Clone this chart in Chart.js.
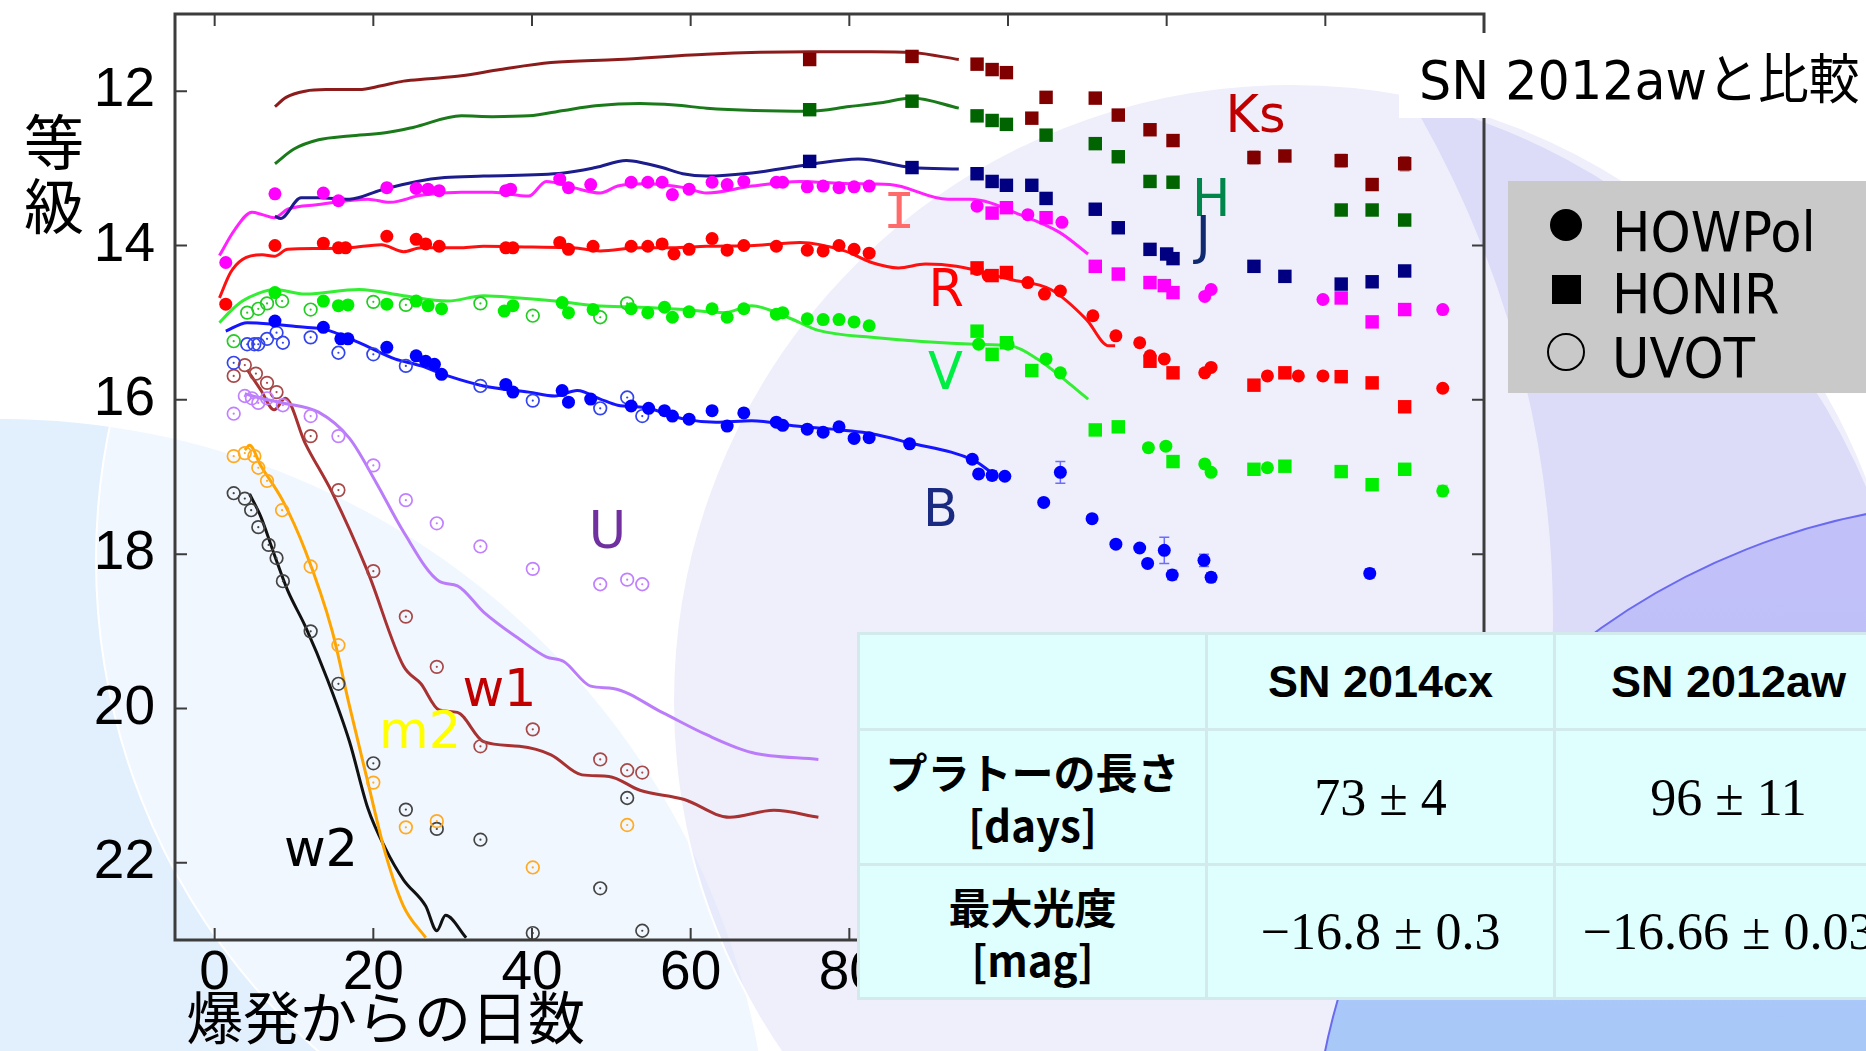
<!DOCTYPE html>
<html>
<head>
<meta charset="utf-8">
<script src="https://cdn.jsdelivr.net/npm/chart.js@4.4.0/dist/chart.umd.min.js"></script>
<style>
  html, body { margin:0; padding:0; width:1866px; height:1051px; overflow:hidden; background:#fff; }
  .deco { position:absolute; border-radius:50%; box-sizing:border-box; }
  #c { position:absolute; left:0; top:0; }
  .ytitle { position:absolute; left:22px; top:107px; width:64px; font:60px "Noto Sans CJK JP"; line-height:64px; text-align:center; color:#000; }
  .xtitle { position:absolute; left:186px; top:986px; font:57px "Noto Sans CJK JP"; line-height:1; color:#000; white-space:nowrap; }
  .titlebox { position:absolute; left:1399px; top:33px; width:480px; height:85px; background:#fff; }
  .titlebox span { position:absolute; left:20px; top:0; font:54px "DejaVu Sans","Noto Sans CJK JP"; line-height:95px; white-space:nowrap; transform:scaleX(0.94); transform-origin:left center; }
  .legend { position:absolute; left:1508px; top:181px; width:380px; height:212px; background:#c9c9c9; }
  .legend .sym { position:absolute; box-sizing:border-box; }
  .legend .txt { position:absolute; left:104px; font:55px "DejaVu Sans"; line-height:1; white-space:nowrap; transform:scaleX(0.93); transform-origin:left center; }
  table.info { position:absolute; left:857px; top:632px; width:1044px; border-collapse:collapse; background:#dfffff; table-layout:fixed; }
  table.info td { border:3px solid #d3eaec; text-align:center; vertical-align:middle; padding:0; }
  .hd { font:bold 45px "Liberation Sans"; }
  .rl { font:bold 42px "Noto Sans CJK JP"; line-height:53px; }
  .val { font:52px "Liberation Serif"; white-space:nowrap; }
</style>
</head>
<body>
<!-- decorative background shapes -->
<div class="deco" style="left:580px;top:80px;width:1340px;height:1340px;background:#e2e2fa;"></div>
<div class="deco" style="left:-487px;top:-400px;width:2040px;height:2040px;background:#fff;border:3px solid #fff;"></div>
<div class="deco" style="left:-771px;top:419px;width:1542px;height:1542px;background:#e2effc;"></div>
<div class="deco" style="left:95px;top:-95px;width:1310px;height:1310px;background:rgba(255,255,255,0.5);border:2px solid #fff;"></div>
<div class="deco" style="left:672px;top:83px;width:1238px;height:1238px;background:rgba(212,212,248,0.36);border:2px solid #fff;"></div>
<div class="deco" style="left:1310px;top:500px;width:1380px;height:1380px;background:linear-gradient(to bottom,#c2c0f8 4%,#bfc0f8 12%,#a8c8f8 38%);border:2px solid #6a6af0;"></div>

<canvas id="c" width="1866" height="1051"></canvas>

<div class="ytitle">等<br>級</div>
<div class="xtitle">爆発からの日数</div>
<div class="titlebox"><span>SN 2012awと比較</span></div>
<div class="legend">
  <div class="sym" style="left:42px;top:28px;width:32px;height:32px;border-radius:50%;background:#000;"></div>
  <div class="txt" style="top:24px;">HOWPol</div>
  <div class="sym" style="left:44px;top:94px;width:29px;height:29px;background:#000;"></div>
  <div class="txt" style="top:86px;">HONIR</div>
  <div class="sym" style="left:39px;top:152px;width:38px;height:38px;border-radius:50%;border:2.5px solid #000;"></div>
  <div class="txt" style="top:150px;">UVOT</div>
</div>
<table class="info">
  <colgroup><col style="width:348px"><col style="width:348px"><col style="width:348px"></colgroup>
  <tr style="height:96px"><td></td><td class="hd">SN 2014cx</td><td class="hd">SN 2012aw</td></tr>
  <tr style="height:135px"><td class="rl">プラトーの長さ<br>[days]</td><td class="val">73 ± 4</td><td class="val">96 ± 11</td></tr>
  <tr style="height:134px"><td class="rl">最大光度<br>[mag]</td><td class="val">−16.8 ± 0.3</td><td class="val">−16.66 ± 0.03</td></tr>
</table>

<script>
// ---- axes ----
const xTicks = [0, 20, 40, 60, 80, 100, 120, 140, 160];
const yTicks = [12, 14, 16, 18, 20, 22];

// ---- SN 2012aw template curves [day, mag] ----
const ksModel = [[7.6,12.2],[9,12.08],[11.4,12.0],[14,11.98],[18.2,11.98],[21,11.93],[23.8,11.87],[27,11.84],[31.1,11.8],[36,11.72],[42.4,11.63],[50.8,11.59],[62,11.52],[75,11.49],[82.8,11.49],[87.9,11.5],[93.8,11.59]];
const hModel  = [[7.6,12.94],[10,12.75],[13.1,12.63],[17,12.58],[21.5,12.54],[25,12.47],[31.1,12.32],[35,12.33],[39.6,12.32],[44,12.25],[48,12.19],[53.6,12.16],[58,12.18],[62,12.22],[68,12.25],[75,12.26],[80,12.2],[84,12.15],[87.9,12.09],[93.8,12.22]];
const jModel  = [[7.6,13.62],[8.3,13.65],[10.9,13.38],[13,13.38],[17,13.4],[21,13.28],[25.5,13.17],[29,13.12],[33.9,13.1],[44,13.06],[48,12.99],[51.9,12.9],[54,12.93],[56.4,12.99],[59,13.07],[62,13.1],[67.7,13.06],[75,12.95],[81.1,12.88],[87.9,12.99],[93.8,13.01]];
const iModel  = [[0.6,14.13],[2.5,13.8],[4.7,13.57],[6,13.6],[7.5,13.64],[9.2,13.53],[13.1,13.47],[19.3,13.4],[22.1,13.44],[26,13.35],[31.1,13.31],[35,13.31],[39.6,13.36],[41.8,13.17],[45.2,13.25],[48.6,13.32],[50.8,13.23],[54.2,13.2],[59.2,13.25],[62,13.32],[67.7,13.23],[73.8,13.17],[80,13.2],[85.1,13.21],[92.4,13.4],[95.2,13.4],[102,13.62],[106.5,13.83],[110.1,14.11]];
const rModel  = [[0.6,14.68],[2,14.35],[3.5,14.18],[6,14.12],[7.5,14.14],[9.2,14.05],[13,14.04],[17,14.03],[21,13.99],[23.8,14.08],[26,14.03],[31.1,14.03],[33.9,14.01],[40,14.02],[45.2,14.03],[48.6,14.07],[53.6,14.03],[57.6,14.03],[62,14.01],[68,14.0],[73.8,13.96],[79.4,14.07],[82.8,14.22],[86.2,14.29],[89.6,14.24],[93.5,14.27],[100.3,14.44],[105.4,14.57],[109.9,14.96],[112.7,15.3],[113.5,15.3]];
const vModel  = [[0.6,15.0],[2,14.85],[3.5,14.72],[5.5,14.62],[7.5,14.57],[11.4,14.63],[18.2,14.57],[23.8,14.65],[29.4,14.72],[33.9,14.65],[38.4,14.68],[42.9,14.72],[48,14.78],[53.6,14.8],[59.2,14.83],[64.3,14.87],[67.7,14.78],[72.2,14.93],[76.1,15.1],[82.8,15.19],[95.8,15.28],[100.3,15.3],[103.7,15.47],[110.1,15.99]];
const bModel  = [[1.4,15.11],[4.1,15.0],[7.5,15.02],[11.4,15.06],[13.7,15.08],[18.2,15.26],[22.7,15.47],[26,15.56],[29.4,15.69],[33.9,15.82],[39.6,15.9],[42.9,15.95],[45.7,15.88],[48.6,15.99],[50.8,16.07],[54.2,16.1],[59.2,16.25],[63.2,16.29],[67.7,16.27],[73.3,16.34],[82.8,16.44],[87.3,16.55],[95.8,16.79],[98,16.95]];
const uModel  = [[3.8,15.92],[5.8,15.98],[8.6,16.04],[13.1,16.16],[17,16.5],[20.4,17.08],[23.8,17.71],[28.3,18.35],[30.6,18.41],[33.9,18.75],[38.4,19.1],[41.8,19.33],[44,19.39],[47.4,19.71],[50.2,19.74],[56.4,20.05],[62,20.34],[67.7,20.57],[76.1,20.66]];
const w1Model = [[4.1,15.61],[5.8,15.87],[7.5,16.13],[8.9,15.98],[11.4,16.56],[14.8,17.2],[19.3,18.23],[23.8,19.45],[26,19.68],[28.3,20.02],[30.6,20.05],[33.9,20.43],[38.4,20.49],[42.4,20.6],[46.3,20.86],[49.7,20.88],[53.6,21.06],[59.2,21.18],[64.9,21.41],[70.5,21.32],[76.1,21.41]];
const m2Model = [[3.8,16.65],[4.4,16.59],[5.8,16.85],[8.6,17.31],[11.4,17.95],[14.8,18.99],[17,19.97],[19.3,20.95],[21.5,21.87],[23.8,22.56],[26.6,22.97]];
const w2Model = [[4.4,17.22],[5.8,17.51],[7.5,18.0],[9.2,18.47],[11.4,18.93],[14.2,19.62],[17,20.43],[19.3,21.29],[21.5,21.81],[23.8,22.22],[26.6,22.56],[28,22.88],[29.1,22.68],[31.7,22.97]];

// ---- SN 2014cx HOWPol (filled circles) [day, mag, err] ----
const iHow = [[1.4,14.22],[7.6,13.33],[13.7,13.32],[15.6,13.42],[21.7,13.25],[25.4,13.26],[26.9,13.27],[28.3,13.29],[36.7,13.29],[37.3,13.27],[43.5,13.14],[44.6,13.25],[47.4,13.21],[52.5,13.18],[54.6,13.18],[56.4,13.18],[57.7,13.34],[59.8,13.27],[62.7,13.18],[64.6,13.21],[66.7,13.17],[70.8,13.18],[71.6,13.18],[74.7,13.24],[76.7,13.23],[78.7,13.25],[80.6,13.24],[82.5,13.23],[96.1,13.49],[102.5,13.6],[106.8,13.7],[124.8,14.66],[125.6,14.57],[139.7,14.7],[154.8,14.83]];
const rHow = [[1.4,14.76],[7.6,14.0],[13.7,13.97],[15.6,14.03],[16.5,14.03],[21.7,13.88],[25.4,13.92],[26.6,13.98],[28.3,14.01],[36.7,14.03],[37.6,14.03],[43.5,13.96],[44.6,14.05],[47.7,14.01],[52.5,14.01],[54.6,14.01],[56.4,13.98],[57.9,14.11],[59.8,14.05],[62.7,13.91],[64.6,14.06],[66.7,14.0],[70.8,14.01],[74.7,14.06],[76.7,14.07],[78.7,14.0],[80.6,14.05],[82.5,14.1],[96.1,14.31],[97.5,14.39],[102.5,14.48],[104.6,14.63],[106.6,14.59],[110.7,14.91],[113.6,15.17],[116.6,15.26],[117.9,15.43],[119.7,15.47],[124.8,15.65],[125.6,15.58],[132.7,15.69],[136.6,15.69],[139.7,15.69],[154.8,15.85]];
const vHow = [[7.6,14.61],[13.7,14.72],[15.6,14.78],[16.8,14.77],[21.7,14.76],[25.4,14.72],[26.9,14.78],[28.6,14.82],[36.5,14.85],[37.6,14.78],[43.8,14.74],[44.6,14.87],[47.7,14.83],[52.5,14.82],[54.6,14.87],[56.7,14.8],[57.7,14.93],[59.8,14.86],[62.7,14.82],[64.6,14.93],[66.7,14.82],[70.8,14.89],[71.6,14.87],[74.7,14.95],[76.7,14.96],[78.7,14.96],[80.6,14.99],[82.5,15.04],[96.3,15.28],[100,15.28],[104.8,15.47],[106.6,15.65],[117.7,16.62],[119.9,16.6],[124.8,16.83],[125.6,16.94],[132.7,16.88],[154.8,17.18,0.07]];
const bHow = [[7.6,14.98],[13.7,15.06],[15.9,15.21],[16.8,15.21],[21.7,15.32],[25.4,15.43],[26.6,15.5],[27.7,15.54],[28.6,15.67],[36.7,15.8],[37.6,15.9],[43.8,15.88],[44.6,16.03],[47.4,15.99],[52.5,16.08],[54.7,16.11],[56.7,16.14],[57.7,16.21],[59.8,16.25],[62.7,16.14],[64.6,16.34],[66.7,16.17],[70.8,16.29],[71.6,16.33],[74.7,16.38],[76.7,16.42],[78.7,16.35],[80.6,16.5],[82.5,16.49],[87.6,16.57],[95.5,16.77,0.05],[96.3,16.96],[98,16.98,0.06],[99.6,16.99],[104.5,17.33],[106.6,16.94,0.14],[110.6,17.54],[113.6,17.87],[116.6,17.92],[117.6,18.12],[119.7,17.95,0.17],[120.7,18.27,0.06],[124.7,18.08,0.08],[125.6,18.3,0.06],[145.6,18.25,0.06]];

// ---- SN 2014cx HONIR (filled squares) ----
const ksHon = [[75,11.59],[87.9,11.55,0.06],[96.1,11.65],[98,11.72],[99.8,11.76],[103,12.35],[104.8,12.08],[111,12.09,0.05],[113.9,12.31],[117.9,12.5],[120.8,12.64],[131,12.86,0.08],[134.9,12.84],[142,12.9,0.08],[145.9,13.21,0.07],[150,12.94,0.09]];
const hHon  = [[75,12.24],[87.9,12.13],[96.1,12.32],[98,12.38],[99.8,12.43],[104.8,12.57],[111,12.68],[113.9,12.85],[117.9,13.17],[120.8,13.18],[142,13.54],[145.9,13.54],[150,13.67,0.05]];
const jHon  = [[75,12.91],[87.9,12.99],[96.1,13.07],[98,13.17],[99.8,13.22],[103,13.22],[104.8,13.39],[111,13.53],[113.9,13.77],[117.9,14.05],[120,14.11],[120.8,14.17],[131,14.27],[134.9,14.4],[142,14.5],[145.9,14.47],[150,14.33]];
const iHon  = [[98,13.58],[99.8,13.51],[104.8,13.64],[111,14.27],[113.9,14.37],[117.9,14.48],[119.7,14.52],[120.8,14.61],[142,14.68],[145.9,14.99],[150,14.83]];
const rHon  = [[96.1,14.29],[98,14.39],[99.8,14.35],[117.9,15.5],[120.8,15.65],[131,15.81],[134.9,15.65],[142,15.7],[145.9,15.78],[150,16.09]];
const vHon  = [[96.1,15.11,0.07],[98,15.41],[99.8,15.26],[103,15.62],[111,16.39],[113.9,16.35],[120.8,16.8],[131,16.9],[134.9,16.86],[142,16.93],[145.9,17.1],[150,16.9]];

// ---- SN 2014cx UVOT (open circles) ----
const vUvot  = [[2.4,15.24],[4.1,14.87],[5.5,14.82],[6.6,14.75],[8.5,14.72],[12.1,14.83],[20,14.73],[24.1,14.77],[33.5,14.75],[40.1,14.91],[48.6,14.93],[52,14.75]];
const bUvot  = [[2.4,15.52],[4.1,15.28],[5,15.28],[5.5,15.28],[6.6,15.21],[7.8,15.13],[8.6,15.26],[12.1,15.19],[15.6,15.39],[20,15.41],[24.1,15.56],[33.5,15.82],[40.1,16.01],[48.6,16.11],[52,15.97],[53.9,16.21]];
const uUvot  = [[2.4,16.18],[3.8,15.95],[4.7,15.98],[5.5,16.04],[6.6,15.98],[8.6,16.07],[12.1,16.21],[15.6,16.47],[20,16.85],[24.1,17.3],[28,17.6],[33.5,17.9],[40.1,18.19],[48.6,18.39],[52,18.33],[53.9,18.39]];
const w1Uvot = [[2.4,15.69],[3.8,15.55],[5.2,15.66],[6.6,15.78],[7.8,15.9],[12.1,16.47],[15.6,17.17],[20,18.22],[24.1,18.81],[28,19.46],[33.5,20.49],[40.1,20.27],[48.6,20.66],[52,20.8],[53.9,20.83]];
const m2Uvot = [[2.4,16.73],[3.8,16.69],[5,16.73],[5.5,16.88],[6.6,17.05],[8.5,17.43],[12.1,18.16],[15.6,19.18],[20,20.96],[24.1,21.54],[28,21.46],[40.1,22.06],[52,21.51]];
const w2Uvot = [[2.4,17.21],[3.8,17.28],[4.6,17.43],[5.5,17.65],[6.8,17.88],[7.8,18.05],[8.6,18.35],[12.1,19.0],[15.6,19.68],[20,20.71],[24.1,21.31],[28,21.56],[33.5,21.7],[40.1,22.91],[48.6,22.33],[52,21.16],[53.9,22.88]];

// ---- band names placed in data coordinates ----
const bandLabels = [
  { text:'Ks', day:131.2, mag:12.29, color:'#c00000' },
  { text:'H',  day:125.6, mag:13.37, color:'#00854a' },
  { text:'J',  day:124.6, mag:13.85, color:'#102a70' },
  { text:'I',  day:86.3,  mag:13.53, color:'#ff6a6a', serif:true },
  { text:'R',  day:92.2,  mag:14.54, color:'#ff0000' },
  { text:'V',  day:92.1,  mag:15.62, color:'#00ee44' },
  { text:'B',  day:91.5,  mag:17.4,  color:'#1a2a80' },
  { text:'U',  day:49.5,  mag:17.68, color:'#7030a0' },
  { text:'w1', day:35.9,  mag:19.73, color:'#c00000' },
  { text:'m2', day:25.9,  mag:20.27, color:'#ffff00' },
  { text:'w2', day:13.4,  mag:21.8,  color:'#000000' },
];

const pts = arr => arr.map(p => ({ x:p[0], y:p[1], e:p[2] || 0 }));

function modelSet(arr, color) {
  return { data: pts(arr), showLine:true, borderColor:color, borderWidth:3, pointRadius:0,
           cubicInterpolationMode:'monotone', fill:false, order:3 };
}
function howSet(arr, color) {
  return { data: pts(arr), pointStyle:'circle', pointRadius:6.5, backgroundColor:color,
           borderColor:color, borderWidth:0, showLine:false, order:1 };
}
function honSet(arr, color) {
  return { data: pts(arr), pointStyle:'rect', pointRadius:9.5, backgroundColor:color,
           borderColor:color, borderWidth:0, showLine:false, order:2 };
}
function uvotSets(arr, color) {
  return [
    { data: pts(arr), pointStyle:'circle', pointRadius:6.3, backgroundColor:'rgba(0,0,0,0)',
      borderColor:color, borderWidth:1.7, showLine:false, order:1 },
    { data: pts(arr), pointStyle:'circle', pointRadius:1.1, backgroundColor:color,
      borderColor:color, borderWidth:0, showLine:false, order:1 },
  ];
}

const datasets = [
  modelSet(ksModel, '#8c1c1c'), modelSet(hModel, '#1a7a1a'), modelSet(jModel, '#1c1c8c'),
  modelSet(iModel, '#ff22ff'), modelSet(rModel, '#ff1010'), modelSet(vModel, '#33ee33'),
  modelSet(bModel, '#1515ff'), modelSet(uModel, '#bb7cfa'), modelSet(w1Model, '#a83232'),
  modelSet(m2Model, '#ffa500'), modelSet(w2Model, '#111111'),
  honSet(ksHon, '#800000'), honSet(hHon, '#006400'), honSet(jHon, '#000080'),
  honSet(iHon, '#ff00ff'), honSet(rHon, '#ff0000'), honSet(vHon, '#00ee00'),
  howSet(iHow, '#ff00ff'), howSet(rHow, '#ff0000'), howSet(vHow, '#00ee00'), howSet(bHow, '#0000ff'),
  ...uvotSets(vUvot, '#22cc22'), ...uvotSets(bUvot, '#3344ee'), ...uvotSets(uUvot, '#c080ff'),
  ...uvotSets(w1Uvot, '#a84848'), ...uvotSets(m2Uvot, '#ffaa22'), ...uvotSets(w2Uvot, '#444444'),
];

// frame with inward ticks on all four sides
const framePlugin = {
  id: 'frame',
  afterDatasetsDraw(chart) {
    const { ctx, chartArea: a, scales: { x, y } } = chart;
    ctx.save();
    ctx.strokeStyle = '#3c3c3c';
    ctx.lineWidth = 3;
    ctx.strokeRect(a.left, a.top, a.right - a.left, a.bottom - a.top);
    ctx.lineWidth = 2;
    ctx.beginPath();
    xTicks.forEach(v => {
      const px = x.getPixelForValue(v);
      ctx.moveTo(px, a.bottom); ctx.lineTo(px, a.bottom - 12);
      ctx.moveTo(px, a.top); ctx.lineTo(px, a.top + 12);
    });
    yTicks.forEach(v => {
      const py = y.getPixelForValue(v);
      ctx.moveTo(a.left, py); ctx.lineTo(a.left + 12, py);
      ctx.moveTo(a.right, py); ctx.lineTo(a.right - 12, py);
    });
    ctx.stroke();
    ctx.restore();
  }
};

// error bars for points carrying an error value
const errPlugin = {
  id: 'errbars',
  afterDatasetsDraw(chart) {
    const { ctx, scales: { y } } = chart;
    ctx.save();
    chart.data.datasets.forEach((ds, i) => {
      const meta = chart.getDatasetMeta(i);
      ds.data.forEach((p, j) => {
        if (!p.e) return;
        const el = meta.data[j];
        const y1 = y.getPixelForValue(p.y - p.e), y2 = y.getPixelForValue(p.y + p.e);
        ctx.strokeStyle = ds.borderColor; ctx.globalAlpha = 0.55; ctx.lineWidth = 1.5;
        ctx.beginPath();
        ctx.moveTo(el.x, y1); ctx.lineTo(el.x, y2);
        ctx.moveTo(el.x - 5, y1); ctx.lineTo(el.x + 5, y1);
        ctx.moveTo(el.x - 5, y2); ctx.lineTo(el.x + 5, y2);
        ctx.stroke();
      });
    });
    ctx.restore();
  }
};

// band names
const labelPlugin = {
  id: 'bandLabels',
  afterDatasetsDraw(chart) {
    const { ctx, scales: { x, y } } = chart;
    ctx.save();
    ctx.textAlign = 'center';
    ctx.textBaseline = 'alphabetic';
    bandLabels.forEach(l => {
      ctx.font = l.serif ? '54px "Liberation Mono"' : '51px "DejaVu Sans"';
      ctx.fillStyle = l.color;
      ctx.fillText(l.text, x.getPixelForValue(l.day), y.getPixelForValue(l.mag) + 51 * 0.365);
    });
    ctx.restore();
  }
};

new Chart(document.getElementById('c').getContext('2d'), {
  type: 'scatter',
  data: { datasets },
  options: {
    responsive:false, animation:false, devicePixelRatio:1,
    layout: { padding: { left:0, top:14, right:382, bottom:0 } },
    plugins: { legend:{ display:false }, tooltip:{ enabled:false } },
    scales: {
      x: {
        type:'linear', min:-5, max:160,
        grid:{ display:false, drawTicks:false }, border:{ display:false },
        afterFit: s => { s.height = 111; s.paddingLeft = 0; s.paddingRight = 0; },
        afterBuildTicks: s => { s.ticks = xTicks.map(v => ({ value:v })); },
        ticks:{ font:{ family:'Liberation Sans', size:55, lineHeight:1 }, color:'#000', padding:6, maxRotation:0, autoSkip:false }
      },
      y: {
        type:'linear', reverse:true, min:11, max:23,
        grid:{ display:false, drawTicks:false }, border:{ display:false },
        afterFit: s => { s.width = 175; s.paddingTop = 0; s.paddingBottom = 0; },
        afterBuildTicks: s => { s.ticks = yTicks.map(v => ({ value:v })); },
        ticks:{ font:{ family:'Liberation Sans', size:55, lineHeight:1 }, color:'#000', padding:20, autoSkip:false }
      }
    }
  },
  plugins: [errPlugin, labelPlugin, framePlugin]
});
</script>
</body>
</html>
